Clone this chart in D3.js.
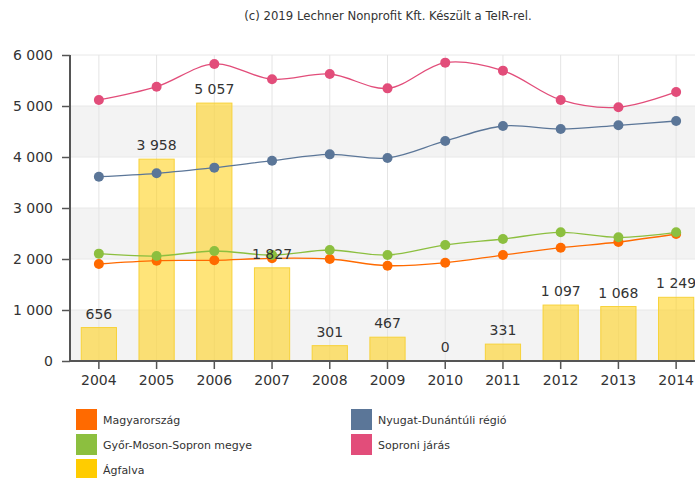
<!DOCTYPE html>
<html>
<head>
<meta charset="utf-8">
<script src="https://cdn.jsdelivr.net/npm/d3@7"></script>
<style>
  html, body { margin: 0; padding: 0; background: #fff; }
  svg { display: block; font-family: "DejaVu Sans", Verdana, sans-serif; }
</style>
</head>
<body>
<svg id="chart" width="695" height="478"></svg>
<script>
// Years on the x axis
const years = ["2004", "2005", "2006", "2007", "2008", "2009", "2010", "2011", "2012", "2013", "2014"];

// Ágfalva (bars)
const agfalva = [656, 3958, 5057, 1827, 301, 467, 0, 331, 1097, 1068, 1249];

// Line series
const magyarorszag = [1902, 1967, 1974, 2013, 2000, 1869, 1928, 2078, 2222, 2333, 2490];
const gyorMosonSopron = [2105, 2059, 2157, 2078, 2176, 2078, 2275, 2392, 2523, 2425, 2523];
const nyugatDunantul = [3614, 3680, 3791, 3928, 4052, 3980, 4314, 4608, 4549, 4621, 4706];
const soproniJaras = [5118, 5378, 5824, 5523, 5627, 5346, 5850, 5693, 5118, 4974, 5275];

// Y axis ticks
const yTicks = [0, 1000, 2000, 3000, 4000, 5000, 6000];

const lineSeries = [
  { name: "Magyarország", values: magyarorszag, color: "#ff6a00" },
  { name: "Győr-Moson-Sopron megye", values: gyorMosonSopron, color: "#8cbf3f" },
  { name: "Nyugat-Dunántúli régió", values: nyugatDunantul, color: "#5b7698" },
  { name: "Soproni járás", values: soproniJaras, color: "#e24d7a" }
];

const legendItems = [
  { name: "Magyarország", color: "#ff6a00", col: 0, row: 0 },
  { name: "Nyugat-Dunántúli régió", color: "#5b7698", col: 1, row: 0 },
  { name: "Győr-Moson-Sopron megye", color: "#8cbf3f", col: 0, row: 1 },
  { name: "Soproni járás", color: "#e24d7a", col: 1, row: 1 },
  { name: "Ágfalva", color: "#ffcc00", col: 0, row: 2 }
];

const fmt = v => d3.format(",")(v).replace(/,/g, " ");

const svg = d3.select("#chart");
const plot = { left: 70, right: 705, top: 55, bottom: 361 };

const x = d3.scaleBand().domain(years).range([plot.left, plot.right]).paddingInner(0.39).paddingOuter(0.195);
const xc = d => x(d) + x.bandwidth() / 2;
const y = d3.scaleLinear().domain([0, 6000]).range([plot.bottom, plot.top]);

// Alternating background bands
const bands = [[0, 1000], [2000, 3000], [4000, 5000]];
svg.append("g").selectAll("rect").data(bands).join("rect")
  .attr("x", plot.left).attr("width", plot.right - plot.left)
  .attr("y", d => y(d[1])).attr("height", d => y(d[0]) - y(d[1]))
  .attr("fill", "#f3f3f3");

// Horizontal grid lines
svg.append("g").selectAll("line").data(yTicks.filter(t => t > 0)).join("line")
  .attr("x1", plot.left).attr("x2", plot.right)
  .attr("y1", d => y(d)).attr("y2", d => y(d))
  .attr("stroke", "#e8e8e8").attr("stroke-width", 1);

// Vertical grid lines at each year
svg.append("g").selectAll("line").data(years).join("line")
  .attr("x1", d => xc(d)).attr("x2", d => xc(d))
  .attr("y1", plot.top).attr("y2", plot.bottom)
  .attr("stroke", "#e4e4e4").attr("stroke-width", 1);

// Bars
svg.append("g").selectAll("rect").data(years).join("rect")
  .attr("x", d => x(d)).attr("width", x.bandwidth())
  .attr("y", (d, i) => y(agfalva[i]))
  .attr("height", (d, i) => y(0) - y(agfalva[i]))
  .attr("fill", "#ffd21f").attr("fill-opacity", 0.6)
  .attr("stroke", "#f7d23a").attr("stroke-width", 1);

// Lines and markers
const line = d3.line()
  .x((v, i) => xc(years[i]))
  .y(v => y(v))
  .curve(d3.curveCatmullRom.alpha(0.5));

lineSeries.forEach(s => {
  const g = svg.append("g");
  g.append("path").datum(s.values)
    .attr("d", line).attr("fill", "none")
    .attr("stroke", s.color).attr("stroke-width", 1.3);
  g.selectAll("circle").data(s.values).join("circle")
    .attr("cx", (v, i) => xc(years[i])).attr("cy", v => y(v))
    .attr("r", 5).attr("fill", s.color);
});

// Axes
const yAxis = d3.axisLeft(y).tickValues(yTicks).tickSize(8).tickPadding(9).tickFormat(fmt);
const yG = svg.append("g").attr("transform", `translate(${plot.left},0)`).call(yAxis);
const xAxis = d3.axisBottom(x).tickSize(8).tickPadding(6);
const xG = svg.append("g").attr("transform", `translate(0,${plot.bottom})`).call(xAxis);
[yG, xG].forEach(g => {
  g.select(".domain").attr("stroke", "#555").attr("stroke-width", 2);
  g.selectAll(".tick line").attr("stroke", "#555").attr("stroke-width", 1.5);
  g.selectAll(".tick text").attr("fill", "#333").style("font-size", "14px")
    .style("font-family", "'DejaVu Sans', Verdana, sans-serif");
});
xG.select(".domain").attr("d", `M${plot.left},0H${plot.right}`);
yG.select(".domain").attr("d", `M0,${plot.top}V${plot.bottom}`);

// Bar value labels
svg.append("g").selectAll("text").data(years).join("text")
  .attr("x", d => xc(d))
  .attr("y", (d, i) => y(agfalva[i]) - 9)
  .attr("text-anchor", "middle")
  .attr("fill", "#333").style("font-size", "14px")
  .text((d, i) => fmt(agfalva[i]));

// Credit line
svg.append("text").attr("x", 388).attr("y", 20).attr("text-anchor", "middle")
  .attr("fill", "#333").style("font-size", "11.7px")
  .text("(c) 2019 Lechner Nonprofit Kft. Készült a TeIR-rel.");

// Legend
const legend = svg.append("g");
legendItems.forEach(it => {
  const lx = it.col === 0 ? 76 : 351;
  const ly = 409 + it.row * 25;
  legend.append("rect").attr("x", lx).attr("y", ly).attr("width", 21).attr("height", 21).attr("fill", it.color);
  legend.append("text").attr("x", lx + 27).attr("y", ly + 15)
    .attr("fill", "#333").style("font-size", "11px").text(it.name);
});
</script>
</body>
</html>
